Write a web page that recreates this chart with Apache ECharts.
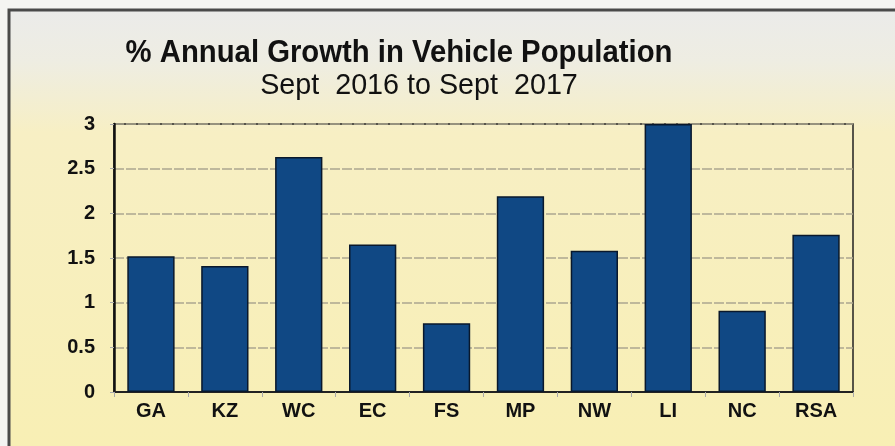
<!DOCTYPE html>
<html>
<head>
<meta charset="utf-8">
<script src="https://cdn.jsdelivr.net/npm/echarts@6/dist/echarts.min.js"></script>
<style>
  html, body { margin: 0; padding: 0; background: #f4f4f2; }
  #main { width: 895px; height: 446px; }
</style>
</head>
<body>
<div id="main"></div>
<script>
var regions = ['GA', 'KZ', 'WC', 'EC', 'FS', 'MP', 'NW', 'LI', 'NC', 'RSA'];
var growth = [1.52, 1.41, 2.63, 1.65, 0.77, 2.19, 1.58, 3.0, 0.91, 1.76];
var yTicks = [0, 0.5, 1, 1.5, 2, 2.5, 3];
var titleText = '% Annual Growth in Vehicle Population';
var subtitleText = 'Sept  2016 to Sept  2017';

var chart = echarts.init(document.getElementById('main'));

var option = {
    animation: false,
    backgroundColor: '#f4f4f2',
    graphic: [
        {
            type: 'rect', z: -10,
            shape: { x: 9, y: 10, width: 890, height: 440 },
            style: {
                fill: new echarts.graphic.LinearGradient(0, 0, 0, 1, [
                    { offset: 0, color: '#ebebea' },
                    { offset: 0.12, color: '#eeede2' },
                    { offset: 0.28, color: '#f7efc4' },
                    { offset: 1, color: '#f8efb4' }
                ]),
                stroke: '#4a4a4a',
                lineWidth: 3
            }
        },
        {
            type: 'text', x: 399, y: 53, scaleX: 0.945,
            style: {
                text: titleText, textAlign: 'center', textVerticalAlign: 'middle',
                font: 'bold 31px "Liberation Sans"', fill: '#111'
            }
        },
        {
            type: 'text', x: 419, y: 86, scaleX: 0.99,
            style: {
                text: subtitleText, textAlign: 'center', textVerticalAlign: 'middle',
                font: '29px "Liberation Sans"', fill: '#111'
            }
        }
    ],
    grid: {
        left: 114, right: 42, top: 124, bottom: 54,
        show: true, borderColor: '#222', borderWidth: 1.5
    },
    xAxis: {
        type: 'category',
        data: regions,
        axisLine: { lineStyle: { color: '#222', width: 2 } },
        axisTick: { show: true, lineStyle: { color: '#aaa' } },
        axisLabel: {
            fontFamily: 'Liberation Sans', fontSize: 20, fontWeight: 'bold', color: '#111', margin: 9
        }
    },
    yAxis: {
        type: 'value',
        min: 0, max: 3, interval: 0.5,
        axisLine: { show: true, lineStyle: { color: '#111', width: 2.5 } },
        axisTick: { show: true, length: 4, lineStyle: { color: '#aaa' } },
        splitLine: { lineStyle: { color: '#aca790', width: 1.5, type: [10, 2] } },
        axisLabel: {
            fontFamily: 'Liberation Sans', fontSize: 20, fontWeight: 'bold', color: '#111', margin: 19,
            formatter: function (v) { return yTicks.indexOf(v) >= 0 ? String(v) : ''; }
        }
    },
    series: [
        {
            type: 'bar',
            data: growth,
            barCategoryGap: '36%',
            itemStyle: { color: '#104884', borderColor: '#09182c', borderWidth: 1.5 }
        }
    ]
};

chart.setOption(option);
</script>
</body>
</html>
